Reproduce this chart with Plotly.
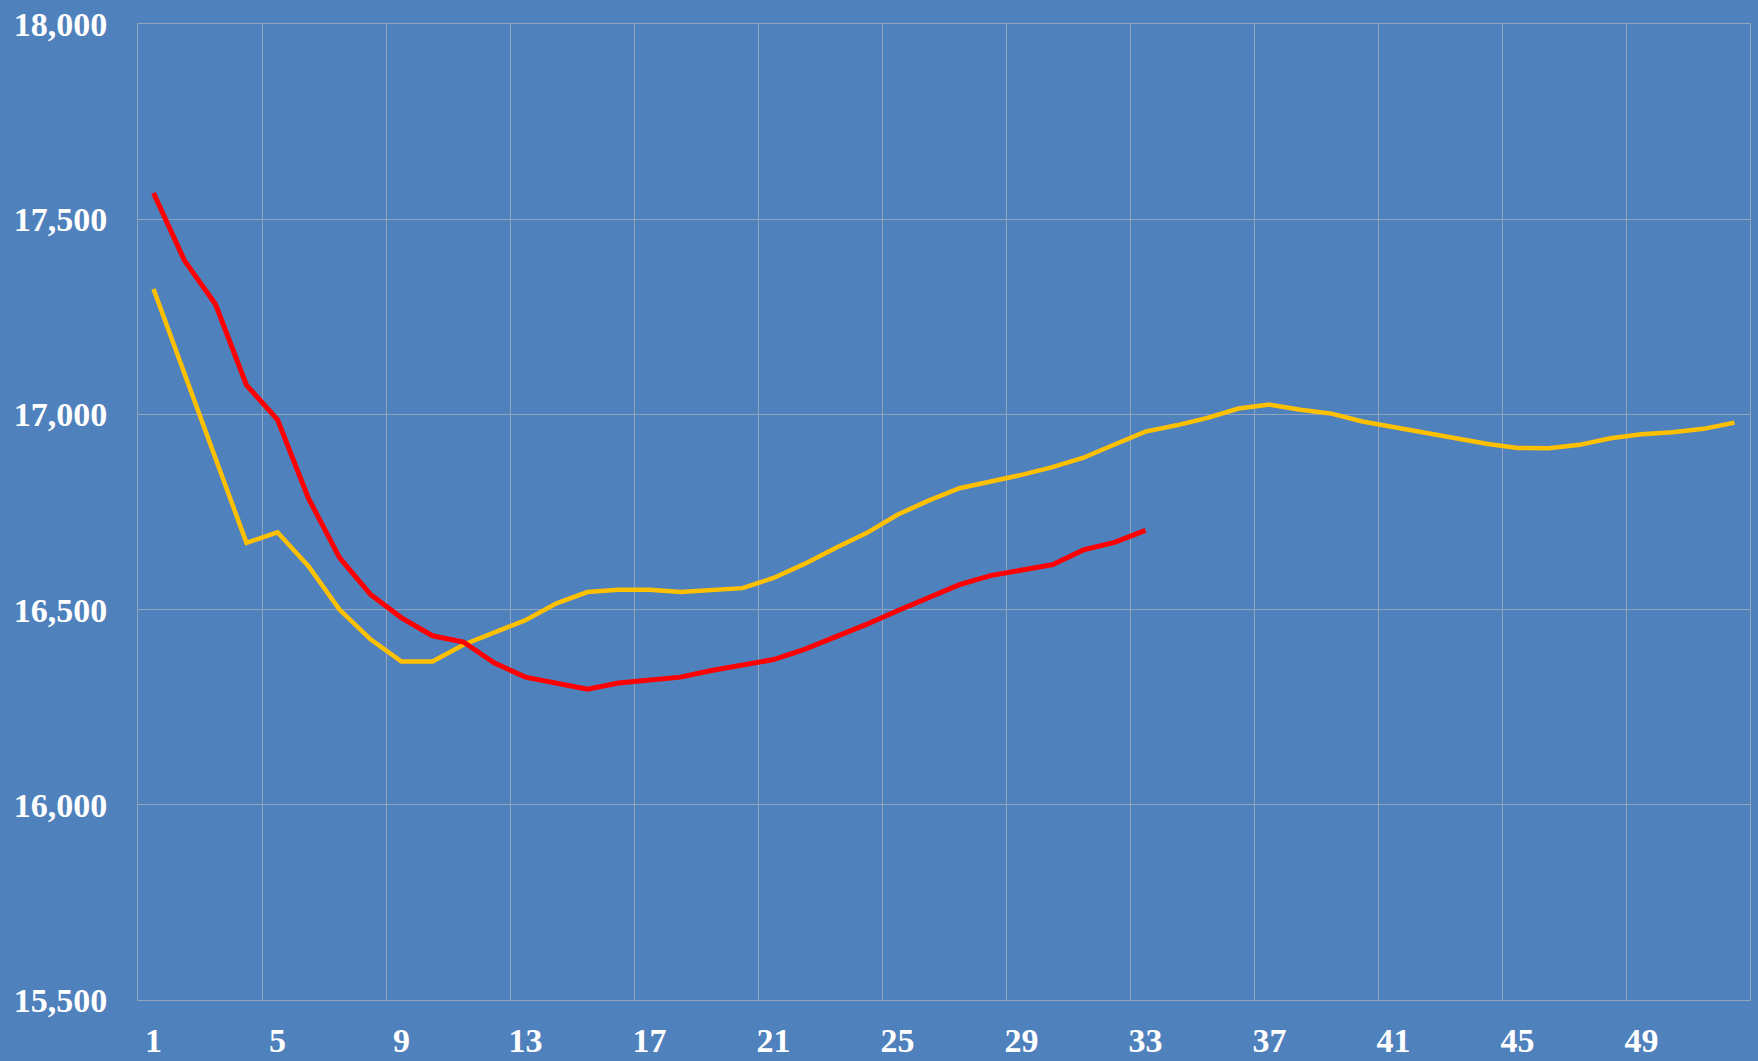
import plotly.graph_objects as go

WEEKS = [1, 2, 3, 4, 5, 6, 7, 8, 9, 10, 11, 12, 13, 14, 15, 16, 17, 18, 19, 20,
         21, 22, 23, 24, 25, 26, 27, 28, 29, 30, 31, 32, 33, 34, 35, 36, 37, 38, 39, 40,
         41, 42, 43, 44, 45, 46, 47, 48, 49, 50, 51, 52]

RED_VALUES = [17567, 17394, 17282, 17075, 16987, 16785, 16633, 16539, 16479, 16433,
              16417, 16363, 16327, 16312, 16296, 16312, 16321, 16327, 16344, 16359,
              16372, 16398, 16429, 16462, 16497, 16530, 16564, 16587, 16602, 16615,
              16653, 16672, 16703]

GOLD_VALUES = [17321, 17102, 16883, 16671, 16698, 16611, 16500, 16424, 16367, 16367,
               16410, 16442, 16473, 16516, 16545, 16551, 16551, 16545, 16549, 16555,
               16581, 16617, 16658, 16696, 16743, 16779, 16811, 16828, 16845, 16865,
               16889, 16923, 16956, 16972, 16991, 17015, 17025, 17012, 17002, 16982,
               16968, 16952, 16938, 16925, 16914, 16913, 16922, 16939, 16949, 16954,
               16963, 16979]

X_TICKS = [1, 5, 9, 13, 17, 21, 25, 29, 33, 37, 41, 45, 49]
X_GRID = [0.5, 4.5, 8.5, 12.5, 16.5, 20.5, 24.5, 28.5, 32.5, 36.5, 40.5, 44.5, 48.5, 52.5]
Y_TICKS = [15500, 16000, 16500, 17000, 17500, 18000]

BG = "#4F81BD"
GRID = "#93A3BC"
FONT = dict(family="Liberation Serif, Times New Roman, serif", size=34, color="white", weight="bold")

fig = go.Figure()
fig.add_trace(go.Scatter(x=WEEKS[:len(GOLD_VALUES)], y=GOLD_VALUES, mode="lines",
                         line=dict(color="#FFC000", width=4.5), hoverinfo="x+y"))
fig.add_trace(go.Scatter(x=WEEKS[:len(RED_VALUES)], y=RED_VALUES, mode="lines",
                         line=dict(color="#FF0000", width=5), hoverinfo="x+y"))
# invisible trace to activate the grid overlay axis
fig.add_trace(go.Scatter(x=[X_GRID[0]], y=[Y_TICKS[0]], xaxis="x2", mode="markers",
                         marker=dict(opacity=0), hoverinfo="skip", showlegend=False))

fig.update_layout(
    width=1758, height=1061,
    paper_bgcolor=BG, plot_bgcolor=BG,
    margin=dict(l=138, r=8, t=24, b=61, autoexpand=False),
    showlegend=False,
    font=FONT,
    xaxis=dict(range=[0.5, 52.5], tickmode="array", tickvals=X_TICKS,
               ticktext=[str(v) for v in X_TICKS], showgrid=False, zeroline=False,
               ticks="", ticklabelstandoff=10, tickfont=FONT, automargin=False,
               showline=True, mirror=True, linecolor=GRID, linewidth=1),
    xaxis2=dict(range=[0.5, 52.5], overlaying="x", anchor="y", side="bottom",
                tickmode="array", tickvals=X_GRID, showticklabels=False,
                showgrid=True, gridcolor=GRID, gridwidth=1, zeroline=False, ticks="",
                automargin=False),
    yaxis=dict(range=[15500, 18000], tickmode="array", tickvals=Y_TICKS,
               tickformat=",", showgrid=True, gridcolor=GRID, gridwidth=1,
               zeroline=False, ticks="", ticklabelstandoff=23, tickfont=FONT,
               automargin=False, showline=True, mirror=True, linecolor=GRID, linewidth=1),
)

fig.write_html(
    "out.html",
    config={"displayModeBar": False},
    post_script="document.body.style.margin='0';document.body.style.overflow='hidden';"
                "document.body.style.background='" + BG + "';",
)
